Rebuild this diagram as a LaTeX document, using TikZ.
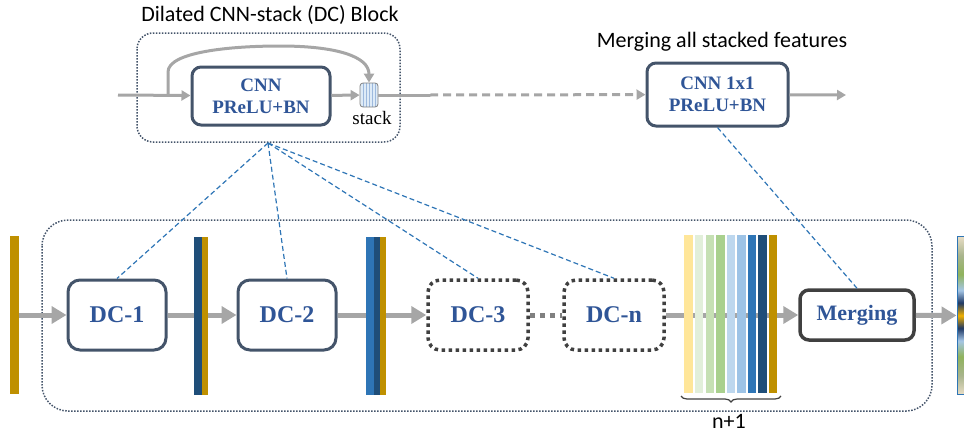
\documentclass[tikz,border=0pt]{standalone}
\usepackage{fontspec}
\setmainfont{Carlito}
\newfontfamily\boxfont{Liberation Serif}
\usepackage{tikz}
\usetikzlibrary{shapes,arrows.meta,decorations.pathreplacing}

\definecolor{boxEdge}{HTML}{44546A}
\definecolor{boxText}{HTML}{2F5597}
\definecolor{flowGray}{HTML}{A6A6A6}
\definecolor{linkBlue}{HTML}{2E75B6}
\definecolor{darkEdge}{HTML}{404040}
\definecolor{barGold}{HTML}{BF9000}
\definecolor{barNavy}{HTML}{1F4E79}
\definecolor{barBlue}{HTML}{2E75B6}
\definecolor{barSky}{HTML}{9DC3E6}
\definecolor{barIce}{HTML}{BDD7EE}
\definecolor{barLeaf}{HTML}{A9D08E}
\definecolor{barMint}{HTML}{C6E0B4}
\definecolor{barPale}{HTML}{E2EFDA}
\definecolor{barCream}{HTML}{FFE699}
\definecolor{stripBeige}{HTML}{E8DDC6}
\definecolor{stripOlive}{HTML}{A8B48C}
\definecolor{stripGreen}{HTML}{8FB35C}
\definecolor{stripSky}{HTML}{A5C6E6}
\definecolor{stripNavy}{HTML}{1F3864}
\definecolor{stripGold}{HTML}{F0B000}
\definecolor{stackFill}{HTML}{DEEBF7}
\definecolor{stackLine}{HTML}{9DB9DD}

\pgfdeclareverticalshading{featStrip}{100bp}{color(0bp)=(stripBeige); color(25bp)=(stripBeige);
  color(31bp)=(stripOlive); color(37bp)=(stripGreen); color(42bp)=(stripSky); color(46bp)=(stripNavy);
  color(50bp)=(stripGold); color(54bp)=(stripNavy); color(58bp)=(stripSky); color(63bp)=(stripGreen);
  color(69bp)=(stripOlive); color(75bp)=(stripBeige); color(100bp)=(stripBeige)}

\begin{document}
\begin{tikzpicture}[x=1pt, y=-1pt,
  cnnbox/.style={draw=boxEdge, line width=3pt, rounded corners=9pt, fill=white, text=boxText, align=center, inner sep=0,
    font=\boxfont\bfseries\fontsize{19}{22}\selectfont, minimum width=138pt, minimum height=58pt},
  dcbox/.style={cnnbox, rounded corners=12pt, minimum width=98pt, minimum height=70pt, font=\boxfont\bfseries\fontsize{24}{26}\selectfont},
  dcloose/.style={dcbox, draw=darkEdge, line width=3.5pt, dash pattern=on 3.5pt off 3.5pt},
  bar/.style={inner sep=0, minimum height=158pt, draw=none},
  flow/.style={draw=flowGray, line width=5pt, -{Triangle[length=15pt,width=17pt]}},
  thinflow/.style={draw=flowGray, line width=3pt, -{Triangle[length=9pt,width=10pt]}},
  link/.style={draw=linkBlue, line width=1.2pt, dash pattern=on 5pt off 3pt},
  group/.style={draw=boxEdge, line width=1.5pt, dash pattern=on 1.5pt off 1.5pt},
  caption/.style={font=\fontsize{22}{25}\selectfont}]

  \useasboundingbox (0,0) rectangle (964,434);
  \clip (0,0) rectangle (964,434);

  \draw [group, rounded corners=16pt] (137,33) rectangle (400,142);
  \draw [group, rounded corners=26pt] (42,220) rectangle (932,411);

  \node [caption] (titleBlock) at (270,15) {Dilated CNN-stack (DC) Block};
  \node [caption] (titleMerge) at (722,42) {Merging all stacked features};

  \node[cnnbox]                    (blockCnn)   at (261,96)    {CNN\\PReLU+BN};
  \node[cnnbox, minimum width=141pt, minimum height=63pt] (blockMerge) at (717.5,94.5) {CNN 1x1\\PReLU+BN};
  \node[draw=gray, line width=0.8pt, fill=stackFill, rounded corners=3pt, minimum width=18pt, minimum height=24pt, inner sep=0,
    path picture={\foreach \s in {-6,-3,0,3,6} \draw[stackLine, line width=1pt] ([xshift=\s pt]path picture bounding box.north) -- ([xshift=\s pt]path picture bounding box.south);}]
                                   (stack)      at (369,95)    {};
  \node[font=\boxfont\fontsize{19}{21}\selectfont] (stackLabel) at (372,118) {stack};

  \coordinate (inTop)   at (118,95);
  \coordinate (skip)    at (168,95);
  \coordinate (dashBeg) at (430,95);
  \coordinate (outTop)  at (846,95);
  \coordinate (fan)     at (268,143);

  \draw [thinflow] (inTop) -- (blockCnn);
  \draw [thinflow] (skip) -- (168,72) .. controls (168,52) and (230,46) .. (280,46) .. controls (335,46) and (369,56) .. (stack.north);
  \draw [thinflow] (blockCnn) -- (stack);
  \draw [draw=flowGray, line width=3pt] (stack) -- (dashBeg);
  \draw [thinflow, dash pattern=on 8pt off 5pt] (dashBeg) -- (blockMerge);
  \draw [thinflow] (blockMerge) -- (outTop);

  \node[dcbox]   (dcOne)   at (117,315) {DC-1};
  \node[dcbox]   (dcTwo)   at (287,315) {DC-2};
  \node[dcloose, minimum width=100pt] (dcThree) at (478,315) {DC-3};
  \node[dcloose, minimum width=100pt] (dcN)     at (614,315) {DC-n};
  \node[cnnbox, draw=darkEdge, line width=3.5pt, minimum width=114pt, minimum height=50pt, font=\boxfont\bfseries\fontsize{22}{24}\selectfont]
                 (merging) at (857,315) {Merging};

  \node[bar, minimum width=20pt, draw=linkBlue, line width=1pt, shade, shading=featStrip] (featOut) at (967,315.5) {};
  \node[bar, fill=barGold, minimum width=9pt] (barIn) at (14.5,315) {};

  \draw [flow] (barIn) -- (dcOne);
  \draw [flow] (dcOne) -- (dcTwo);
  \draw [flow] (dcTwo) -- (dcThree);
  \draw [draw=gray, line width=5pt, dash pattern=on 5pt off 5pt] (dcThree) -- (dcN);
  \draw [flow] (dcN) -- (merging);
  \draw [flow] (merging) -- (featOut);

  \node[bar, fill=barNavy, minimum width=8pt] (barTwoA) at (198,316) {};
  \node[bar, fill=barGold, minimum width=6pt] (barTwoB) at (205,316) {};

  \node[bar, fill=barBlue, minimum width=8pt] (barThreeA) at (370,316) {};
  \node[bar, fill=barNavy, minimum width=6pt] (barThreeB) at (377,316) {};
  \node[bar, fill=barGold, minimum width=6pt] (barThreeC) at (383,316) {};

  \foreach \x/\c [count=\i] in {688.5/barCream, 699/barPale, 710/barMint, 720.5/barLeaf, 731/barIce,
                                741.5/barSky, 752/barBlue, 762.5/barNavy, 773/barGold}
    \node[bar, fill=\c, minimum width=8.5pt] (barAll\i) at (\x,314) {};

  \draw [decorate, decoration={brace, mirror, amplitude=6pt}, line width=1.2pt, darkEdge] (681,396) -- (781,396);
  \node[caption] (countLabel) at (729,421) {n+1};

  \draw [link] (fan) -- (dcOne.north);
  \draw [link] (fan) -- (dcTwo.north);
  \draw [link] (fan) -- (dcThree.north);
  \draw [link] (fan) -- (dcN.north);
  \draw [link] (blockMerge.south) -- (merging.north);
\end{tikzpicture}
\end{document}
